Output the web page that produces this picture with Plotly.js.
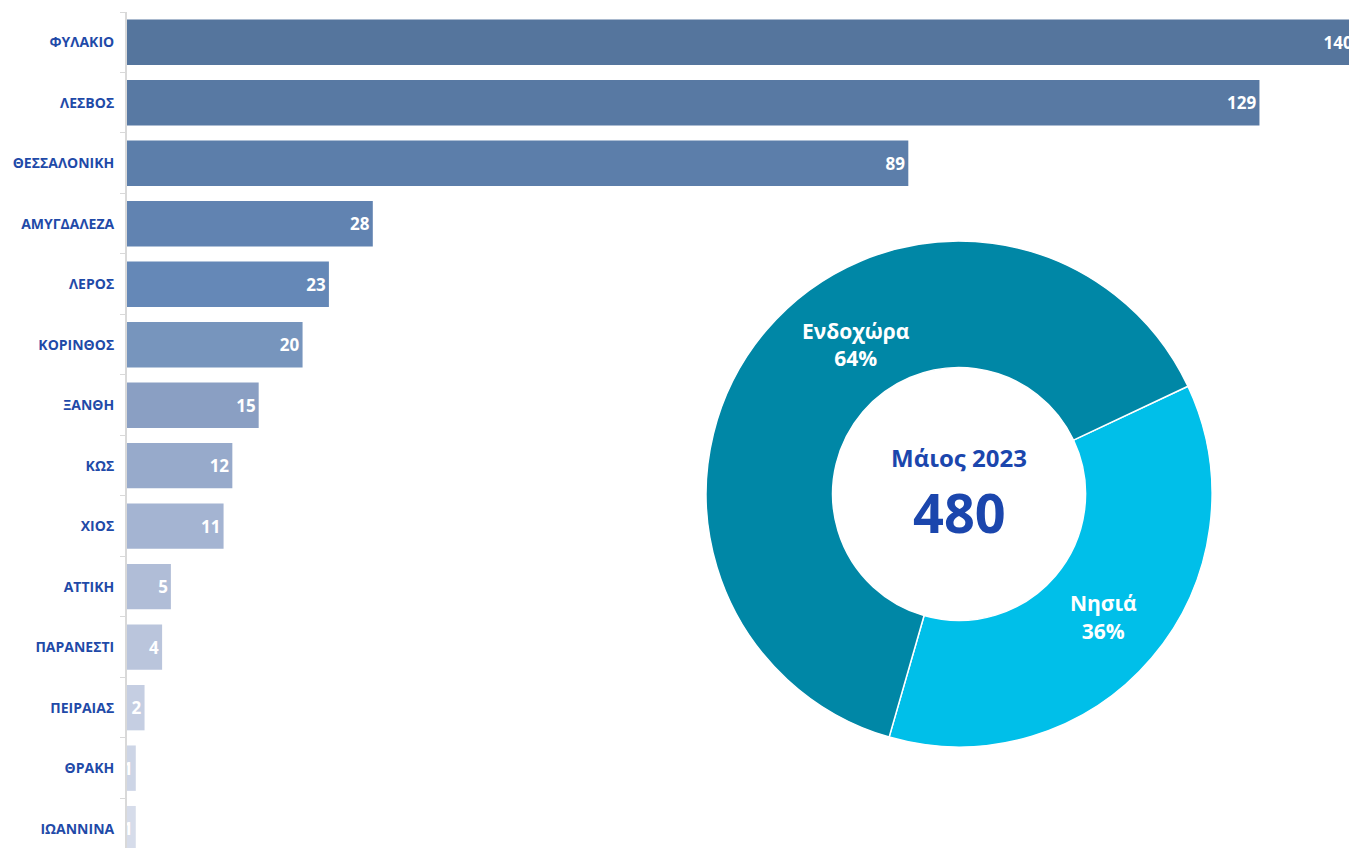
<!DOCTYPE html>
<html>
<head>
<meta charset="utf-8">
<script src="https://cdn.plot.ly/plotly-3.0.1.min.js"></script>
<style>
html,body{margin:0;padding:0;background:#fff;overflow:hidden;}
#chart{width:1349px;height:848px;}
</style>
</head>
<body>
<div id="chart"></div>
<script>
// ---- data ----
var locations = ['ΦΥΛΑΚΙΟ','ΛΕΣΒΟΣ','ΘΕΣΣΑΛΟΝΙΚΗ','ΑΜΥΓΔΑΛΕΖΑ','ΛΕΡΟΣ','ΚΟΡΙΝΘΟΣ','ΞΑΝΘΗ','ΚΩΣ','ΧΙΟΣ','ΑΤΤΙΚΗ','ΠΑΡΑΝΕΣΤΙ','ΠΕΙΡΑΙΑΣ','ΘΡΑΚΗ','ΙΩΑΝΝΙΝΑ'];
var counts = [140,129,89,28,23,20,15,12,11,5,4,2,1,1];
var barColors = ['#55759d','#5879a3','#5c7eaa','#6183b1','#6588b7','#7795bd','#8a9fc3','#97aacb','#a4b4d2','#b0bdd7','#bac5dc','#c5cee2','#cdd5e6','#d6dcea'];
var regionLabels = ['Νησιά','Ενδοχώρα'];
var regionValues = [175,305];
var regionColors = ['#00bfe9','#0087a6'];
var centerTitle = 'Μάιος 2023';

var total = counts.reduce(function(a,b){return a+b;},0);
var regionTotal = regionValues.reduce(function(a,b){return a+b;},0);
function pct(v){return Math.round(100*v/regionTotal)+'%';}

var barTrace = {
  type:'bar', orientation:'h',
  y: locations, x: counts,
  marker:{color: barColors},
  text: counts.map(String),
  textposition:'inside', insidetextanchor:'end',
  constraintext:'none',
  textfont:{color:'#ffffff', size:17, family:'Open Sans', weight:'bold'},
  hoverinfo:'x+y',
  xaxis:'x', yaxis:'y'
};

// the Νησιά label sits in its slice; the Ενδοχώρα label is placed higher, as in the source
var pieTrace = {
  type:'pie', hole:0.5,
  labels: regionLabels, values: regionValues,
  sort:false, direction:'clockwise', rotation:64.8,
  marker:{colors: regionColors, line:{color:'#ffffff', width:1.5}},
  texttemplate:['%{label}<br>%{percent:.0%}', ' '],
  textposition:'inside', insidetextorientation:'horizontal',
  textfont:{color:'#ffffff', size:21, family:'Open Sans', weight:'bold'},
  domain:{x:[0.4739,0.8879], y:[0.1208,0.7261]},
  showlegend:false
};

var layout = {
  width:1349, height:848,
  margin:{l:127, r:0, t:12, b:0},
  paper_bgcolor:'#ffffff', plot_bgcolor:'#ffffff',
  font:{family:'Open Sans', color:'#1f4aa8'},
  showlegend:false,
  bargap:0.25,
  xaxis:{range:[0,139.2], visible:false, fixedrange:true},
  yaxis:{type:'category', range:[13.32,-0.5], showline:true, linecolor:'#d9d9d9', linewidth:2,
         ticks:'outside', tickson:'boundaries', ticklen:5, tickcolor:'#d9d9d9', tickwidth:1,
         showgrid:false, ticklabelstandoff:8,
         tickfont:{size:14, family:'Open Sans', color:'#1f4aa8', weight:'bold'}},
  annotations:[
    {xref:'paper', yref:'paper', x:0.6809, y:0.4677, text:centerTitle, showarrow:false,
     xanchor:'center', yanchor:'middle', font:{size:24, family:'Open Sans', color:'#1b46ad', weight:'bold'}},
    {xref:'paper', yref:'paper', x:0.6809, y:0.4019, text:String(total), showarrow:false,
     xanchor:'center', yanchor:'middle', font:{size:54, family:'Open Sans', color:'#1b46ad', weight:'bold'}},
    {xref:'paper', yref:'paper', x:0.5966, y:0.6020, text:regionLabels[1]+'<br>'+pct(regionValues[1]), showarrow:false,
     xanchor:'center', yanchor:'middle', font:{size:21, family:'Open Sans', color:'#ffffff', weight:'bold'}}
  ]
};

Plotly.newPlot('chart', [barTrace, pieTrace], layout, {displayModeBar:false, staticPlot:true});
</script>
</body>
</html>
